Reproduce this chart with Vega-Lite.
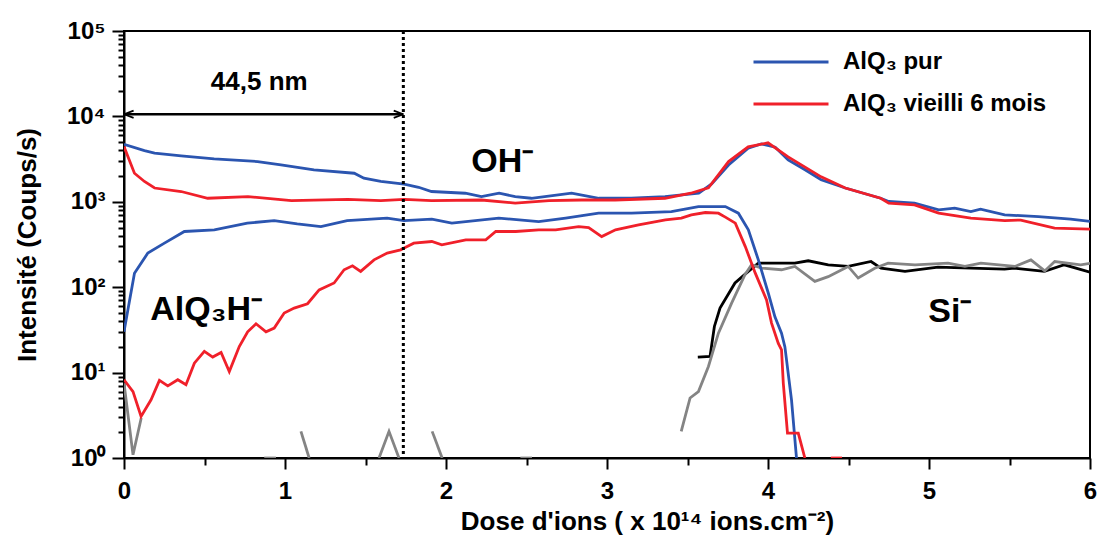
{
  "$schema": "https://vega.github.io/schema/vega-lite/v6.json",
  "width": 966,
  "height": 427,
  "autosize": {"type": "none"},
  "padding": {"left": 124, "top": 31, "right": 9, "bottom": 79},
  "background": "white",
  "config": {
    "font": "Liberation Sans",
    "view": {"stroke": "black", "strokeWidth": 2},
    "axis": {"grid": false, "domainColor": "black", "domainWidth": 2, "tickColor": "black", "tickWidth": 2, "labelColor": "black", "labelFontWeight": "bold", "labelFontSize": 24, "titleColor": "black", "titleFontWeight": "bold", "titleFontSize": 26}
  },
  "datasets": {
    "main": [
      {"x": 0, "y": 4700, "ion": "OH", "sample": "AlQ₃ pur"},
      {"x": 0.127, "y": 3980, "ion": "OH", "sample": "AlQ₃ pur"},
      {"x": 0.19, "y": 3710, "ion": "OH", "sample": "AlQ₃ pur"},
      {"x": 0.355, "y": 3450, "ion": "OH", "sample": "AlQ₃ pur"},
      {"x": 0.56, "y": 3180, "ion": "OH", "sample": "AlQ₃ pur"},
      {"x": 0.83, "y": 2960, "ion": "OH", "sample": "AlQ₃ pur"},
      {"x": 0.975, "y": 2710, "ion": "OH", "sample": "AlQ₃ pur"},
      {"x": 1.18, "y": 2370, "ion": "OH", "sample": "AlQ₃ pur"},
      {"x": 1.43, "y": 2160, "ion": "OH", "sample": "AlQ₃ pur"},
      {"x": 1.49, "y": 1890, "ion": "OH", "sample": "AlQ₃ pur"},
      {"x": 1.595, "y": 1730, "ion": "OH", "sample": "AlQ₃ pur"},
      {"x": 1.74, "y": 1610, "ion": "OH", "sample": "AlQ₃ pur"},
      {"x": 1.83, "y": 1480, "ion": "OH", "sample": "AlQ₃ pur"},
      {"x": 1.91, "y": 1320, "ion": "OH", "sample": "AlQ₃ pur"},
      {"x": 2.12, "y": 1260, "ion": "OH", "sample": "AlQ₃ pur"},
      {"x": 2.22, "y": 1150, "ion": "OH", "sample": "AlQ₃ pur"},
      {"x": 2.33, "y": 1260, "ion": "OH", "sample": "AlQ₃ pur"},
      {"x": 2.43, "y": 1150, "ion": "OH", "sample": "AlQ₃ pur"},
      {"x": 2.53, "y": 1100, "ion": "OH", "sample": "AlQ₃ pur"},
      {"x": 2.78, "y": 1260, "ion": "OH", "sample": "AlQ₃ pur"},
      {"x": 2.95, "y": 1100, "ion": "OH", "sample": "AlQ₃ pur"},
      {"x": 3.15, "y": 1100, "ion": "OH", "sample": "AlQ₃ pur"},
      {"x": 3.36, "y": 1150, "ion": "OH", "sample": "AlQ₃ pur"},
      {"x": 3.57, "y": 1260, "ion": "OH", "sample": "AlQ₃ pur"},
      {"x": 3.65, "y": 1620, "ion": "OH", "sample": "AlQ₃ pur"},
      {"x": 3.755, "y": 2700, "ion": "OH", "sample": "AlQ₃ pur"},
      {"x": 3.877, "y": 4250, "ion": "OH", "sample": "AlQ₃ pur"},
      {"x": 3.958, "y": 4770, "ion": "OH", "sample": "AlQ₃ pur"},
      {"x": 4.045, "y": 4360, "ion": "OH", "sample": "AlQ₃ pur"},
      {"x": 4.125, "y": 3100, "ion": "OH", "sample": "AlQ₃ pur"},
      {"x": 4.23, "y": 2370, "ion": "OH", "sample": "AlQ₃ pur"},
      {"x": 4.33, "y": 1810, "ion": "OH", "sample": "AlQ₃ pur"},
      {"x": 4.48, "y": 1450, "ion": "OH", "sample": "AlQ₃ pur"},
      {"x": 4.7, "y": 1100, "ion": "OH", "sample": "AlQ₃ pur"},
      {"x": 4.75, "y": 1010, "ion": "OH", "sample": "AlQ₃ pur"},
      {"x": 4.91, "y": 965, "ion": "OH", "sample": "AlQ₃ pur"},
      {"x": 5.06, "y": 805, "ion": "OH", "sample": "AlQ₃ pur"},
      {"x": 5.16, "y": 843, "ion": "OH", "sample": "AlQ₃ pur"},
      {"x": 5.26, "y": 769, "ion": "OH", "sample": "AlQ₃ pur"},
      {"x": 5.32, "y": 820, "ion": "OH", "sample": "AlQ₃ pur"},
      {"x": 5.47, "y": 703, "ion": "OH", "sample": "AlQ₃ pur"},
      {"x": 5.68, "y": 672, "ion": "OH", "sample": "AlQ₃ pur"},
      {"x": 5.88, "y": 627, "ion": "OH", "sample": "AlQ₃ pur"},
      {"x": 6.0, "y": 590, "ion": "OH", "sample": "AlQ₃ pur"},

      {"x": 0, "y": 4430, "ion": "OH", "sample": "AlQ₃ vieilli 6 mois"},
      {"x": 0.065, "y": 2160, "ion": "OH", "sample": "AlQ₃ vieilli 6 mois"},
      {"x": 0.127, "y": 1730, "ion": "OH", "sample": "AlQ₃ vieilli 6 mois"},
      {"x": 0.19, "y": 1450, "ion": "OH", "sample": "AlQ₃ vieilli 6 mois"},
      {"x": 0.355, "y": 1320, "ion": "OH", "sample": "AlQ₃ vieilli 6 mois"},
      {"x": 0.52, "y": 1100, "ion": "OH", "sample": "AlQ₃ vieilli 6 mois"},
      {"x": 0.77, "y": 1150, "ion": "OH", "sample": "AlQ₃ vieilli 6 mois"},
      {"x": 1.04, "y": 1030, "ion": "OH", "sample": "AlQ₃ vieilli 6 mois"},
      {"x": 1.39, "y": 1070, "ion": "OH", "sample": "AlQ₃ vieilli 6 mois"},
      {"x": 1.595, "y": 1030, "ion": "OH", "sample": "AlQ₃ vieilli 6 mois"},
      {"x": 1.74, "y": 1070, "ion": "OH", "sample": "AlQ₃ vieilli 6 mois"},
      {"x": 1.91, "y": 1030, "ion": "OH", "sample": "AlQ₃ vieilli 6 mois"},
      {"x": 2.22, "y": 1050, "ion": "OH", "sample": "AlQ₃ vieilli 6 mois"},
      {"x": 2.43, "y": 965, "ion": "OH", "sample": "AlQ₃ vieilli 6 mois"},
      {"x": 2.64, "y": 1030, "ion": "OH", "sample": "AlQ₃ vieilli 6 mois"},
      {"x": 2.84, "y": 1050, "ion": "OH", "sample": "AlQ₃ vieilli 6 mois"},
      {"x": 3.05, "y": 1050, "ion": "OH", "sample": "AlQ₃ vieilli 6 mois"},
      {"x": 3.36, "y": 1100, "ion": "OH", "sample": "AlQ₃ vieilli 6 mois"},
      {"x": 3.52, "y": 1260, "ion": "OH", "sample": "AlQ₃ vieilli 6 mois"},
      {"x": 3.63, "y": 1460, "ion": "OH", "sample": "AlQ₃ vieilli 6 mois"},
      {"x": 3.755, "y": 2960, "ion": "OH", "sample": "AlQ₃ vieilli 6 mois"},
      {"x": 3.877, "y": 4400, "ion": "OH", "sample": "AlQ₃ vieilli 6 mois"},
      {"x": 4.0, "y": 4900, "ion": "OH", "sample": "AlQ₃ vieilli 6 mois"},
      {"x": 4.125, "y": 3360, "ion": "OH", "sample": "AlQ₃ vieilli 6 mois"},
      {"x": 4.33, "y": 1960, "ion": "OH", "sample": "AlQ₃ vieilli 6 mois"},
      {"x": 4.48, "y": 1450, "ion": "OH", "sample": "AlQ₃ vieilli 6 mois"},
      {"x": 4.7, "y": 1100, "ion": "OH", "sample": "AlQ₃ vieilli 6 mois"},
      {"x": 4.75, "y": 965, "ion": "OH", "sample": "AlQ₃ vieilli 6 mois"},
      {"x": 4.91, "y": 921, "ion": "OH", "sample": "AlQ₃ vieilli 6 mois"},
      {"x": 5.06, "y": 736, "ion": "OH", "sample": "AlQ₃ vieilli 6 mois"},
      {"x": 5.26, "y": 644, "ion": "OH", "sample": "AlQ₃ vieilli 6 mois"},
      {"x": 5.47, "y": 603, "ion": "OH", "sample": "AlQ₃ vieilli 6 mois"},
      {"x": 5.57, "y": 611, "ion": "OH", "sample": "AlQ₃ vieilli 6 mois"},
      {"x": 5.78, "y": 492, "ion": "OH", "sample": "AlQ₃ vieilli 6 mois"},
      {"x": 6.0, "y": 479, "ion": "OH", "sample": "AlQ₃ vieilli 6 mois"},

      {"x": 0, "y": 30, "ion": "AlQ3H", "sample": "AlQ₃ pur"},
      {"x": 0.024, "y": 54, "ion": "AlQ3H", "sample": "AlQ₃ pur"},
      {"x": 0.065, "y": 146, "ion": "AlQ3H", "sample": "AlQ₃ pur"},
      {"x": 0.148, "y": 251, "ion": "AlQ3H", "sample": "AlQ₃ pur"},
      {"x": 0.251, "y": 328, "ion": "AlQ3H", "sample": "AlQ₃ pur"},
      {"x": 0.375, "y": 449, "ion": "AlQ3H", "sample": "AlQ₃ pur"},
      {"x": 0.561, "y": 470, "ion": "AlQ3H", "sample": "AlQ₃ pur"},
      {"x": 0.766, "y": 562, "ion": "AlQ3H", "sample": "AlQ₃ pur"},
      {"x": 0.933, "y": 603, "ion": "AlQ3H", "sample": "AlQ₃ pur"},
      {"x": 1.076, "y": 552, "ion": "AlQ3H", "sample": "AlQ₃ pur"},
      {"x": 1.223, "y": 513, "ion": "AlQ3H", "sample": "AlQ₃ pur"},
      {"x": 1.386, "y": 603, "ion": "AlQ3H", "sample": "AlQ₃ pur"},
      {"x": 1.634, "y": 644, "ion": "AlQ3H", "sample": "AlQ₃ pur"},
      {"x": 1.739, "y": 603, "ion": "AlQ3H", "sample": "AlQ₃ pur"},
      {"x": 1.912, "y": 627, "ion": "AlQ3H", "sample": "AlQ₃ pur"},
      {"x": 2.036, "y": 562, "ion": "AlQ3H", "sample": "AlQ₃ pur"},
      {"x": 2.328, "y": 644, "ion": "AlQ3H", "sample": "AlQ₃ pur"},
      {"x": 2.576, "y": 587, "ion": "AlQ3H", "sample": "AlQ₃ pur"},
      {"x": 2.743, "y": 644, "ion": "AlQ3H", "sample": "AlQ₃ pur"},
      {"x": 2.948, "y": 736, "ion": "AlQ3H", "sample": "AlQ₃ pur"},
      {"x": 3.153, "y": 736, "ion": "AlQ3H", "sample": "AlQ₃ pur"},
      {"x": 3.4, "y": 769, "ion": "AlQ3H", "sample": "AlQ₃ pur"},
      {"x": 3.568, "y": 880, "ion": "AlQ3H", "sample": "AlQ₃ pur"},
      {"x": 3.735, "y": 880, "ion": "AlQ3H", "sample": "AlQ₃ pur"},
      {"x": 3.816, "y": 736, "ion": "AlQ3H", "sample": "AlQ₃ pur"},
      {"x": 3.878, "y": 470, "ion": "AlQ3H", "sample": "AlQ₃ pur"},
      {"x": 3.94, "y": 209, "ion": "AlQ3H", "sample": "AlQ₃ pur"},
      {"x": 4.002, "y": 85, "ion": "AlQ3H", "sample": "AlQ₃ pur"},
      {"x": 4.043, "y": 45, "ion": "AlQ3H", "sample": "AlQ₃ pur"},
      {"x": 4.084, "y": 29, "ion": "AlQ3H", "sample": "AlQ₃ pur"},
      {"x": 4.105, "y": 20, "ion": "AlQ3H", "sample": "AlQ₃ pur"},
      {"x": 4.146, "y": 4.8, "ion": "AlQ3H", "sample": "AlQ₃ pur"},
      {"x": 4.177, "y": 1.0, "ion": "AlQ3H", "sample": "AlQ₃ pur"},

      {"x": 0, "y": 8.25, "ion": "AlQ3H", "sample": "AlQ₃ vieilli 6 mois"},
      {"x": 0.056, "y": 6.0, "ion": "AlQ3H", "sample": "AlQ₃ vieilli 6 mois"},
      {"x": 0.106, "y": 3.07, "ion": "AlQ3H", "sample": "AlQ₃ vieilli 6 mois"},
      {"x": 0.168, "y": 4.8, "ion": "AlQ3H", "sample": "AlQ₃ vieilli 6 mois"},
      {"x": 0.22, "y": 8.1, "ion": "AlQ3H", "sample": "AlQ₃ vieilli 6 mois"},
      {"x": 0.272, "y": 7.0, "ion": "AlQ3H", "sample": "AlQ₃ vieilli 6 mois"},
      {"x": 0.334, "y": 8.25, "ion": "AlQ3H", "sample": "AlQ₃ vieilli 6 mois"},
      {"x": 0.385, "y": 7.2, "ion": "AlQ3H", "sample": "AlQ₃ vieilli 6 mois"},
      {"x": 0.437, "y": 12.9, "ion": "AlQ3H", "sample": "AlQ₃ vieilli 6 mois"},
      {"x": 0.499, "y": 17.7, "ion": "AlQ3H", "sample": "AlQ₃ vieilli 6 mois"},
      {"x": 0.551, "y": 15.2, "ion": "AlQ3H", "sample": "AlQ₃ vieilli 6 mois"},
      {"x": 0.603, "y": 17.2, "ion": "AlQ3H", "sample": "AlQ₃ vieilli 6 mois"},
      {"x": 0.654, "y": 10.3, "ion": "AlQ3H", "sample": "AlQ₃ vieilli 6 mois"},
      {"x": 0.716, "y": 20.2, "ion": "AlQ3H", "sample": "AlQ₃ vieilli 6 mois"},
      {"x": 0.768, "y": 30, "ion": "AlQ3H", "sample": "AlQ₃ vieilli 6 mois"},
      {"x": 0.82, "y": 37.3, "ion": "AlQ3H", "sample": "AlQ₃ vieilli 6 mois"},
      {"x": 0.882, "y": 30, "ion": "AlQ3H", "sample": "AlQ₃ vieilli 6 mois"},
      {"x": 0.933, "y": 33.2, "ion": "AlQ3H", "sample": "AlQ₃ vieilli 6 mois"},
      {"x": 0.995, "y": 49.8, "ion": "AlQ3H", "sample": "AlQ₃ vieilli 6 mois"},
      {"x": 1.057, "y": 56.9, "ion": "AlQ3H", "sample": "AlQ₃ vieilli 6 mois"},
      {"x": 1.14, "y": 64, "ion": "AlQ3H", "sample": "AlQ₃ vieilli 6 mois"},
      {"x": 1.212, "y": 93, "ion": "AlQ3H", "sample": "AlQ₃ vieilli 6 mois"},
      {"x": 1.305, "y": 112, "ion": "AlQ3H", "sample": "AlQ₃ vieilli 6 mois"},
      {"x": 1.367, "y": 160, "ion": "AlQ3H", "sample": "AlQ₃ vieilli 6 mois"},
      {"x": 1.419, "y": 178, "ion": "AlQ3H", "sample": "AlQ₃ vieilli 6 mois"},
      {"x": 1.47, "y": 153, "ion": "AlQ3H", "sample": "AlQ₃ vieilli 6 mois"},
      {"x": 1.553, "y": 209, "ion": "AlQ3H", "sample": "AlQ₃ vieilli 6 mois"},
      {"x": 1.635, "y": 251, "ion": "AlQ3H", "sample": "AlQ₃ vieilli 6 mois"},
      {"x": 1.718, "y": 274, "ion": "AlQ3H", "sample": "AlQ₃ vieilli 6 mois"},
      {"x": 1.74, "y": 287, "ion": "AlQ3H", "sample": "AlQ₃ vieilli 6 mois"},
      {"x": 1.8, "y": 328, "ion": "AlQ3H", "sample": "AlQ₃ vieilli 6 mois"},
      {"x": 1.912, "y": 343, "ion": "AlQ3H", "sample": "AlQ₃ vieilli 6 mois"},
      {"x": 1.974, "y": 314, "ion": "AlQ3H", "sample": "AlQ₃ vieilli 6 mois"},
      {"x": 2.123, "y": 359, "ion": "AlQ3H", "sample": "AlQ₃ vieilli 6 mois"},
      {"x": 2.247, "y": 359, "ion": "AlQ3H", "sample": "AlQ₃ vieilli 6 mois"},
      {"x": 2.309, "y": 449, "ion": "AlQ3H", "sample": "AlQ₃ vieilli 6 mois"},
      {"x": 2.433, "y": 449, "ion": "AlQ3H", "sample": "AlQ₃ vieilli 6 mois"},
      {"x": 2.576, "y": 470, "ion": "AlQ3H", "sample": "AlQ₃ vieilli 6 mois"},
      {"x": 2.681, "y": 470, "ion": "AlQ3H", "sample": "AlQ₃ vieilli 6 mois"},
      {"x": 2.824, "y": 513, "ion": "AlQ3H", "sample": "AlQ₃ vieilli 6 mois"},
      {"x": 2.886, "y": 500, "ion": "AlQ3H", "sample": "AlQ₃ vieilli 6 mois"},
      {"x": 2.967, "y": 392, "ion": "AlQ3H", "sample": "AlQ₃ vieilli 6 mois"},
      {"x": 3.053, "y": 470, "ion": "AlQ3H", "sample": "AlQ₃ vieilli 6 mois"},
      {"x": 3.196, "y": 537, "ion": "AlQ3H", "sample": "AlQ₃ vieilli 6 mois"},
      {"x": 3.363, "y": 615, "ion": "AlQ3H", "sample": "AlQ₃ vieilli 6 mois"},
      {"x": 3.462, "y": 644, "ion": "AlQ3H", "sample": "AlQ₃ vieilli 6 mois"},
      {"x": 3.524, "y": 703, "ion": "AlQ3H", "sample": "AlQ₃ vieilli 6 mois"},
      {"x": 3.611, "y": 749, "ion": "AlQ3H", "sample": "AlQ₃ vieilli 6 mois"},
      {"x": 3.692, "y": 736, "ion": "AlQ3H", "sample": "AlQ₃ vieilli 6 mois"},
      {"x": 3.735, "y": 661, "ion": "AlQ3H", "sample": "AlQ₃ vieilli 6 mois"},
      {"x": 3.797, "y": 562, "ion": "AlQ3H", "sample": "AlQ₃ vieilli 6 mois"},
      {"x": 3.859, "y": 299, "ion": "AlQ3H", "sample": "AlQ₃ vieilli 6 mois"},
      {"x": 3.921, "y": 146, "ion": "AlQ3H", "sample": "AlQ₃ vieilli 6 mois"},
      {"x": 3.991, "y": 71, "ion": "AlQ3H", "sample": "AlQ₃ vieilli 6 mois"},
      {"x": 4.022, "y": 38, "ion": "AlQ3H", "sample": "AlQ₃ vieilli 6 mois"},
      {"x": 4.064, "y": 22, "ion": "AlQ3H", "sample": "AlQ₃ vieilli 6 mois"},
      {"x": 4.084, "y": 18.5, "ion": "AlQ3H", "sample": "AlQ₃ vieilli 6 mois"},
      {"x": 4.095, "y": 7.5, "ion": "AlQ3H", "sample": "AlQ₃ vieilli 6 mois"},
      {"x": 4.121, "y": 1.96, "ion": "AlQ3H", "sample": "AlQ₃ vieilli 6 mois"},
      {"x": 4.188, "y": 1.96, "ion": "AlQ3H", "sample": "AlQ₃ vieilli 6 mois"},
      {"x": 4.229, "y": 1.0, "ion": "AlQ3H", "sample": "AlQ₃ vieilli 6 mois"},

      {"x": 4.39, "y": 1.0, "ion": "AlQ3H b", "sample": "AlQ₃ vieilli 6 mois"},
      {"x": 4.46, "y": 1.0, "ion": "AlQ3H b", "sample": "AlQ₃ vieilli 6 mois"}
    ],
    "si": [
      {"x": 3.564, "y": 15.2, "s": "a", "seg": "a"},
      {"x": 3.64, "y": 15.5, "s": "a", "seg": "a"},
      {"x": 3.667, "y": 34.7, "s": "a", "seg": "a"},
      {"x": 3.702, "y": 56.9, "s": "a", "seg": "a"},
      {"x": 3.795, "y": 112, "s": "a", "seg": "a"},
      {"x": 3.878, "y": 153, "s": "a", "seg": "a"},
      {"x": 3.94, "y": 191, "s": "a", "seg": "a"},
      {"x": 4.167, "y": 191, "s": "a", "seg": "a"},
      {"x": 4.25, "y": 204, "s": "a", "seg": "a"},
      {"x": 4.374, "y": 183, "s": "a", "seg": "a"},
      {"x": 4.498, "y": 175, "s": "a", "seg": "a"},
      {"x": 4.64, "y": 200, "s": "a", "seg": "a"},
      {"x": 4.702, "y": 167, "s": "a", "seg": "a"},
      {"x": 4.851, "y": 153, "s": "a", "seg": "a"},
      {"x": 5.056, "y": 172, "s": "a", "seg": "a"},
      {"x": 5.261, "y": 167, "s": "a", "seg": "a"},
      {"x": 5.469, "y": 163, "s": "a", "seg": "a"},
      {"x": 5.531, "y": 167, "s": "a", "seg": "a"},
      {"x": 5.717, "y": 153, "s": "a", "seg": "a"},
      {"x": 5.841, "y": 183, "s": "a", "seg": "a"},
      {"x": 6.0, "y": 150, "s": "a", "seg": "a"},

      {"x": 3.461, "y": 2.05, "s": "b", "seg": "b"},
      {"x": 3.516, "y": 5.04, "s": "b", "seg": "b"},
      {"x": 3.568, "y": 6.0, "s": "b", "seg": "b"},
      {"x": 3.63, "y": 11.8, "s": "b", "seg": "b"},
      {"x": 3.692, "y": 29, "s": "b", "seg": "b"},
      {"x": 3.774, "y": 65, "s": "b", "seg": "b"},
      {"x": 3.857, "y": 140, "s": "b", "seg": "b"},
      {"x": 3.898, "y": 183, "s": "b", "seg": "b"},
      {"x": 3.96, "y": 167, "s": "b", "seg": "b"},
      {"x": 4.084, "y": 160, "s": "b", "seg": "b"},
      {"x": 4.167, "y": 175, "s": "b", "seg": "b"},
      {"x": 4.291, "y": 117, "s": "b", "seg": "b"},
      {"x": 4.374, "y": 133, "s": "b", "seg": "b"},
      {"x": 4.498, "y": 175, "s": "b", "seg": "b"},
      {"x": 4.56, "y": 128, "s": "b", "seg": "b"},
      {"x": 4.663, "y": 167, "s": "b", "seg": "b"},
      {"x": 4.746, "y": 191, "s": "b", "seg": "b"},
      {"x": 4.913, "y": 183, "s": "b", "seg": "b"},
      {"x": 5.118, "y": 191, "s": "b", "seg": "b"},
      {"x": 5.223, "y": 175, "s": "b", "seg": "b"},
      {"x": 5.322, "y": 191, "s": "b", "seg": "b"},
      {"x": 5.533, "y": 175, "s": "b", "seg": "b"},
      {"x": 5.633, "y": 209, "s": "b", "seg": "b"},
      {"x": 5.719, "y": 155, "s": "b", "seg": "b"},
      {"x": 5.781, "y": 200, "s": "b", "seg": "b"},
      {"x": 5.942, "y": 183, "s": "b", "seg": "b"},
      {"x": 6.0, "y": 190, "s": "b", "seg": "b"},

      {"x": 0, "y": 7.5, "s": "b", "seg": "g1"},
      {"x": 0.056, "y": 1.09, "s": "b", "seg": "g1"},
      {"x": 0.107, "y": 2.94, "s": "b", "seg": "g1"},
      {"x": 0.871, "y": 1, "s": "b", "seg": "g2"},
      {"x": 0.944, "y": 1, "s": "b", "seg": "g2"},
      {"x": 1.099, "y": 2.05, "s": "b", "seg": "g3"},
      {"x": 1.15, "y": 1, "s": "b", "seg": "g3"},
      {"x": 1.584, "y": 1, "s": "b", "seg": "g4"},
      {"x": 1.646, "y": 2.05, "s": "b", "seg": "g4"},
      {"x": 1.708, "y": 1, "s": "b", "seg": "g4"},
      {"x": 1.914, "y": 2.05, "s": "b", "seg": "g5"},
      {"x": 1.976, "y": 1, "s": "b", "seg": "g5"},
      {"x": 2.462, "y": 1, "s": "b", "seg": "g6"},
      {"x": 2.534, "y": 1, "s": "b", "seg": "g6"}
    ]
  },
  "layer": [
    {
      "data": {"name": "si"},
      "mark": {"type": "line", "strokeWidth": 2.8, "clip": true},
      "encoding": {
        "x": {"field": "x", "type": "quantitative", "scale": {"domain": [0, 6], "nice": false},
          "axis": {"values": [0, 0.5, 1, 1.5, 2, 2.5, 3, 3.5, 4, 4.5, 5, 5.5, 6],
            "labelExpr": "datum.value % 1 == 0 ? format(datum.value, 'd') : ''",
            "tickSize": {"condition": {"test": "datum.value % 1 == 0", "value": 11}, "value": 7},
            "labelPadding": 10, "labelFlush": false,
            "title": "Dose d'ions ( x 10¹⁴ ions.cm⁻²)", "titlePadding": 5, "titleX": 523}},
        "y": {"field": "y", "type": "quantitative", "scale": {"type": "log", "domain": [1, 100000], "nice": false},
          "axis": {"values": [1, 2, 3, 4, 5, 6, 7, 8, 9, 10, 20, 30, 40, 50, 60, 70, 80, 90, 100, 200, 300, 400, 500, 600, 700, 800, 900, 1000, 2000, 3000, 4000, 5000, 6000, 7000, 8000, 9000, 10000, 20000, 30000, 40000, 50000, 60000, 70000, 80000, 90000, 100000],
            "labelExpr": "indexof([1,10,100,1000,10000,100000], datum.value) >= 0 ? ['10⁰','10¹','10²','10³','10⁴','10⁵'][indexof([1,10,100,1000,10000,100000], datum.value)] : ''",
            "tickSize": {"condition": {"test": "indexof([1,10,100,1000,10000,100000], datum.value) >= 0", "value": 12}, "value": 6},
            "labelPadding": 7, "labelFlush": false,
            "title": "Intensité (Coups/s)", "titleX": -84}},
        "stroke": {"field": "s", "type": "nominal", "scale": {"domain": ["a", "b"], "range": ["#000000", "#848484"]}, "legend": null},
        "detail": {"field": "seg"}
      }
    },
    {
      "data": {"name": "main"},
      "mark": {"type": "line", "strokeWidth": 2.8, "clip": true},
      "encoding": {
        "x": {"field": "x", "type": "quantitative"},
        "y": {"field": "y", "type": "quantitative"},
        "color": {"field": "sample", "type": "nominal",
          "scale": {"domain": ["AlQ₃ pur", "AlQ₃ vieilli 6 mois"], "range": ["#2b55b0", "#f0202a"]},
          "legend": {"orient": "none", "legendX": 653, "legendY": 17, "title": null,
            "symbolType": "M-3,0H3", "symbolSize": 625, "symbolStrokeWidth": 3, "symbolFillColor": "transparent",
            "labelFontSize": 24, "labelFontWeight": "bold", "labelColor": "black", "labelOffset": 38, "labelLimit": 400,
            "rowPadding": 16, "padding": 0, "labelFont": "Liberation Sans"}},
        "detail": {"field": "ion"}
      }
    },
    {
      "data": {"values": [{"x": 1.735}]},
      "mark": {"type": "rule", "strokeDash": [3, 3], "strokeWidth": 3, "color": "black"},
      "encoding": {"x": {"field": "x", "type": "quantitative"}}
    },
    {
      "data": {"values": [{"x0": 0, "x1": 1.735, "y": 10600}]},
      "mark": {"type": "rule", "strokeWidth": 2.5, "color": "black"},
      "encoding": {
        "x": {"field": "x0", "type": "quantitative"},
        "x2": {"field": "x1"},
        "y": {"field": "y", "type": "quantitative"}
      }
    },
    {
      "data": {"values": [{"x": 0, "y": 10600, "d": "left"}, {"x": 1.735, "y": 10600, "d": "right"}]},
      "mark": {"type": "point", "filled": false, "strokeWidth": 1.8, "color": "black", "opacity": 1, "size": 64},
      "encoding": {
        "x": {"field": "x", "type": "quantitative"},
        "y": {"field": "y", "type": "quantitative"},
        "shape": {"field": "d", "type": "nominal", "scale": {"domain": ["left", "right"], "range": ["M0,0L2.4,-0.9M0,0L2.4,0.9", "M0,0L-2.4,-0.9M0,0L-2.4,0.9"]}, "legend": null}
      }
    },
    {
      "data": {"values": [{"x": 0.51, "y": 41.5, "t": "AlQ₃H⁻"}, {"x": 2.35, "y": 2260, "t": "OH⁻"}, {"x": 5.13, "y": 39, "t": "Si⁻"}]},
      "mark": {"type": "text", "fontSize": 34, "fontWeight": "bold", "align": "center", "baseline": "alphabetic", "color": "black", "font": "Liberation Sans"},
      "encoding": {
        "x": {"field": "x", "type": "quantitative"},
        "y": {"field": "y", "type": "quantitative"},
        "text": {"field": "t"}
      }
    },
    {
      "data": {"values": [{"x": 0.84, "y": 20400, "t": "44,5 nm"}]},
      "mark": {"type": "text", "fontSize": 26, "fontWeight": "bold", "align": "center", "baseline": "alphabetic", "color": "black", "font": "Liberation Sans"},
      "encoding": {
        "x": {"field": "x", "type": "quantitative"},
        "y": {"field": "y", "type": "quantitative"},
        "text": {"field": "t"}
      }
    }
  ]
}
